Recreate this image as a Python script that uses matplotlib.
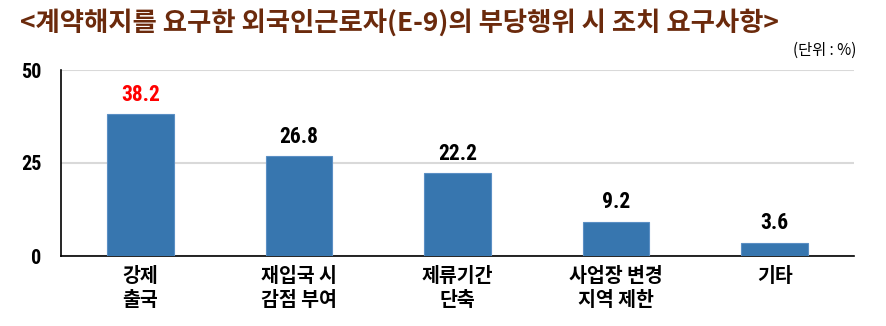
import matplotlib
matplotlib.use("Agg")
import matplotlib.pyplot as plt
from matplotlib import font_manager

categories = ["강제\n출국", "재입국 시\n감점 부여", "제류기간\n단축", "사업장 변경\n지역 제한", "기타"]
values = [38.2, 26.8, 22.2, 9.2, 3.6]
label_colors = ["#FF0000", "black", "black", "black", "black"]
yticks = [0, 25, 50]

names = {f.name for f in font_manager.fontManager.ttflist}
num_font = "Liberation Sans Narrow" if "Liberation Sans Narrow" in names else "Roboto Condensed" if "Roboto Condensed" in names else "DejaVu Sans"
kr = "Noto Sans CJK KR"

plt.rcParams["font.family"] = [kr, "DejaVu Sans"]

fig = plt.figure(figsize=(8.87, 3.26), dpi=100)
ax = fig.add_axes([61 / 887, 1 - 256 / 326, 793 / 887, 186 / 326])

x = range(len(values))
ax.bar(x, values, width=0.42, color="#3776AF", edgecolor="#5B8FC4", linewidth=0.8, zorder=3)
ax.set_xlim(-0.5, len(values) - 0.5)
ax.set_ylim(0, 50)
ax.set_yticks(yticks)
ax.set_yticklabels([str(t) for t in yticks], fontfamily=num_font, fontweight="bold", fontsize=14.5)
ax.yaxis.grid(True, color="#D9D9D9", linewidth=1.5, zorder=0)
ax.set_xticks(list(x))
ax.set_xticklabels(categories, fontfamily=kr, fontweight="bold", fontsize=14, linespacing=1.3)
ax.tick_params(axis="x", length=0, pad=8)
ax.tick_params(axis="y", length=0, pad=14)
for s in ("top", "right"):
    ax.spines[s].set_visible(False)
for s in ("left", "bottom"):
    ax.spines[s].set_color("black")
    ax.spines[s].set_linewidth(1.2)

for xi, v, c in zip(x, values, label_colors):
    ax.annotate(f"{v:.1f}", (xi, v), xytext=(0, 6), textcoords="offset points",
                ha="center", va="bottom", fontfamily=num_font, fontweight="bold",
                fontsize=15.5, color=c)

fig.text(20 / 887, 1 - 23 / 326, "<계약해지를 요구한 외국인근로자(E-9)의 부당행위 시 조치 요구사항>",
         ha="left", va="center", fontfamily=kr, fontweight="bold", fontsize=19, color="#6B2A0C")
fig.text(856 / 887, 1 - 50 / 326, "(단위 : %)", ha="right", va="center",
         fontfamily=kr, fontsize=11, color="black")

fig.savefig("out.png", dpi=100)
